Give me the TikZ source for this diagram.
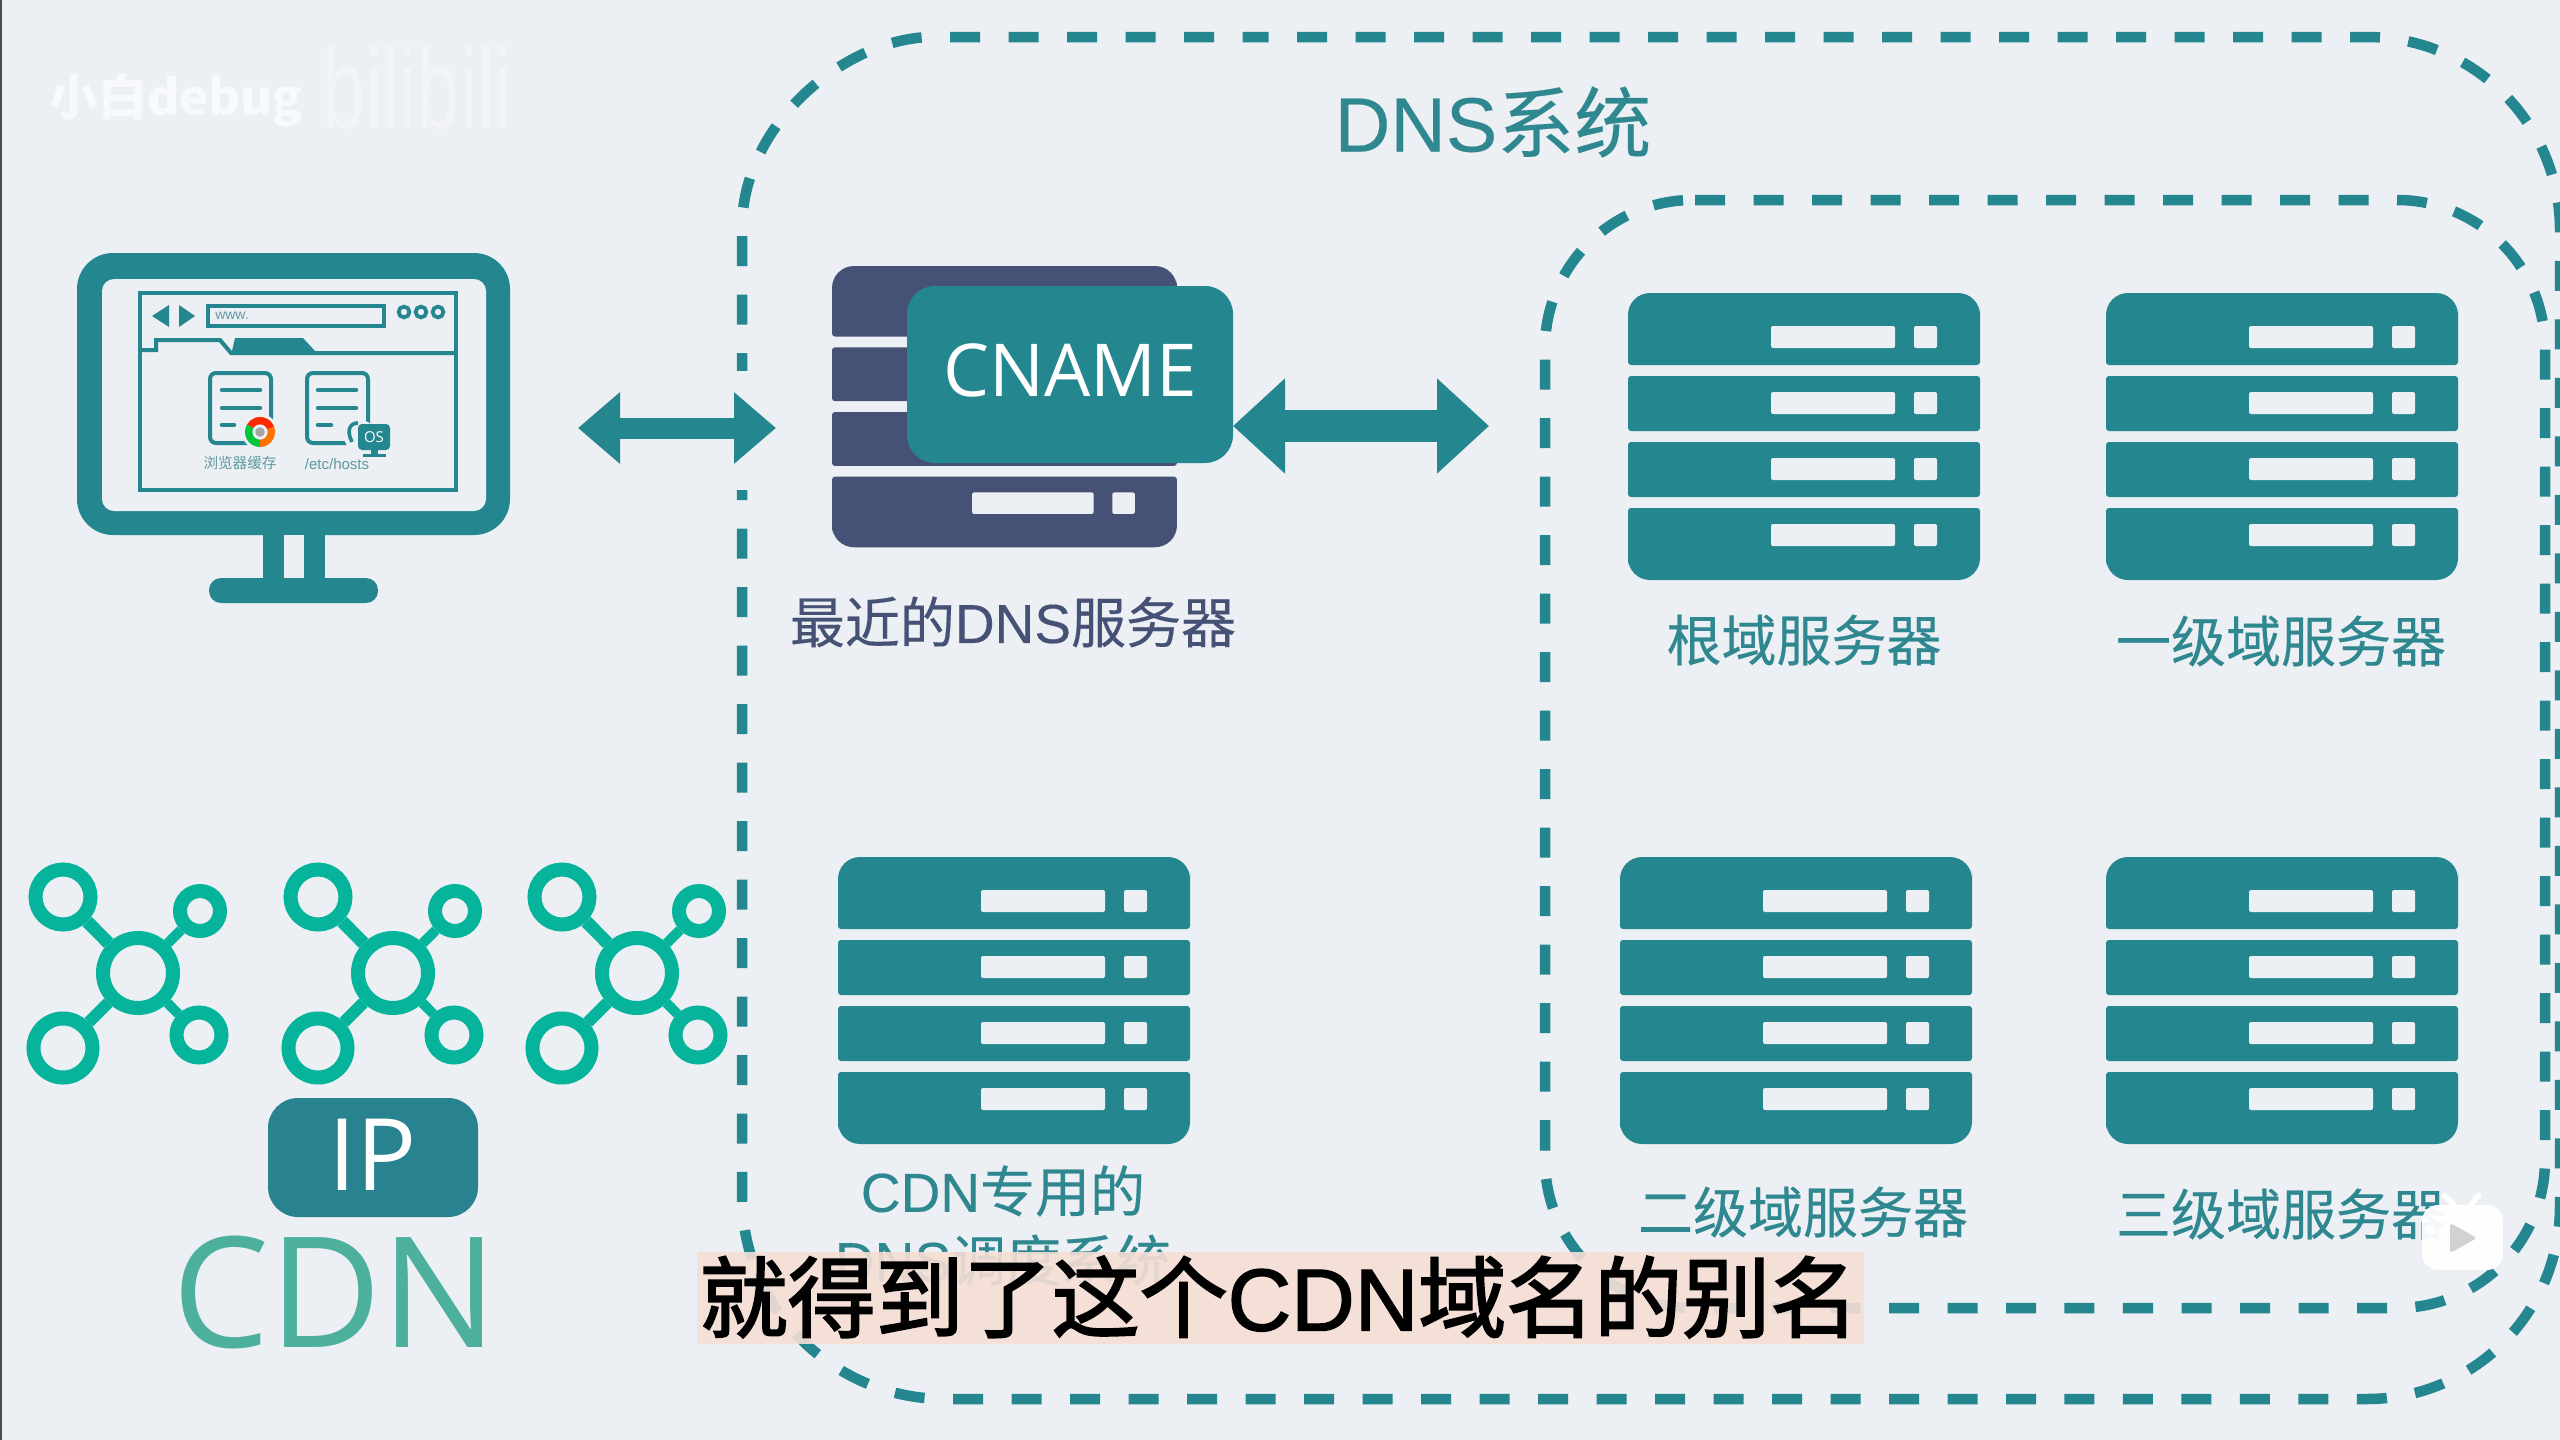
\documentclass[tikz,border=0pt]{standalone}
\usepackage{fontspec}
\setmainfont{Noto Sans CJK SC}
\newfontfamily\opensans{Open Sans}
\newfontfamily\arialish{Liberation Sans}
\newfontfamily\cjkm[FakeBold=0.3]{Noto Sans CJK SC}
\newfontfamily\latm[FakeBold=0.25]{Liberation Sans}
\newfontfamily\cjksub[FakeBold=2.2]{Noto Sans CJK SC}
\newfontfamily\latsub[FakeBold=1.6]{Liberation Sans}
\newcommand{\lm}[1]{{\latm #1}}
\newcommand{\ls}[1]{{\latsub #1}}
\usetikzlibrary{arrows.meta}
\definecolor{bgc}{HTML}{ECEFF3}
\definecolor{teal1}{HTML}{24868F}
\definecolor{navy1}{HTML}{465275}
\definecolor{lab1}{HTML}{2F8790}
\definecolor{ipbox}{HTML}{28828F}
\definecolor{cdng}{HTML}{4CB09C}
\definecolor{netg}{HTML}{06B39B}
\definecolor{subbg}{HTML}{F6DFD6}
\definecolor{small1}{HTML}{5E9AA0}
\tikzset{
  dashline/.style={draw=teal1,line width=5.25pt,line cap=butt,dash pattern=on 15pt off 14.25pt},
  srvlabel/.style={inner sep=0pt,text=lab1,font=\cjkm\fontsize{27.5pt}{30pt}\selectfont},
  ring/.style={circle,draw=netg,line width=7pt,inner sep=0pt},
  netlink/.style={draw=netg,line width=#1},
  fatarrow/.style={draw=teal1,line width=#1},
  winline/.style={draw=teal1,line width=2pt},
  docline/.style={draw=teal1,line width=2.25pt,line cap=round},
}
\newcommand{\serverIcon}[4]{%
\begin{scope}[shift={(#1,#2)},scale=#4]
\fill[#3] (0,36) [rounded corners=11pt] -- (0,0) -- (176,0) -- (352,0) -- (352,36) [rounded corners=1.5pt] -- (352,72) -- (0,72) -- cycle;
\fill[#3,rounded corners=1.5pt] (0,83) rectangle (352,138);
\fill[#3,rounded corners=1.5pt] (0,149) rectangle (352,204);
\fill[#3] (0,250) [rounded corners=1.5pt] -- (0,215) -- (352,215) -- (352,250) [rounded corners=11pt] -- (352,287) -- (0,287) -- cycle;
\foreach \wy in {33,99,165,231}{
  \fill[bgc,rounded corners=1pt] (143,\wy) rectangle (267,\wy+22);
  \fill[bgc,rounded corners=1pt] (286,\wy) rectangle (309,\wy+22);
}
\end{scope}}
\begin{document}
\begin{tikzpicture}[x=0.5pt,y=-0.5pt]
\useasboundingbox (0,0) rectangle (2560,1440);
\clip (0,0) rectangle (2560,1440);
\fill[bgc] (0,0) rectangle (2560,1440);
\fill[black!70] (0,0) rectangle (2,1440);
% watermark
\node[inner sep=0pt,text=white!60!bgc,font=\bfseries\fontsize{24.5pt}{28pt}\selectfont] (wm) at (176,100) {小白debug};
\node[inner sep=0pt,text=white!30!bgc,font=\arialish\fontsize{57pt}{60pt}\selectfont] (wmb) at (417,88) {\scalebox{.68}[1]{bilibili}};
% outer dashed frame
\draw[dashline] (1297,37) -- (2367,37) .. controls (2473.6,37) and (2560,123.4) .. (2560,230) -- (2560,1206) .. controls (2560,1312.6) and (2473.6,1399) .. (2367,1399) -- (2036,1399);
\draw[dashline] (2036,1399) -- (945,1399) .. controls (832.9,1399) and (742,1308.1) .. (742,1196) -- (742,1143.5);
\draw[dashline] (742,1143.5) -- (742,228) .. controls (742,122.5) and (847.5,37) .. (933,37) -- (1268.5,37);
% inner dashed frame
\draw[dashline] (1695,200) -- (2397,200) .. controls (2478.7,200) and (2545,266.3) .. (2545,348) -- (2545,1160) .. controls (2545,1241.7) and (2478.7,1308) .. (2397,1308) -- (2036,1308);
\draw[dashline] (2036,1308) -- (1693,1308) .. controls (1611.3,1308) and (1545,1241.7) .. (1545,1160) -- (1545,1150);
\draw[dashline] (1545,1150) -- (1545,348) .. controls (1545,266.3) and (1611.3,200) .. (1693,200);
\fill[bgc] (733,371) rectangle (751,490);
% title
\node[inner sep=0pt,text=lab1,font=\cjkm\fontsize{38.5pt}{42pt}\selectfont] (title) at (1493,122) {\lm{DNS}系统};
% monitor
\fill[teal1,rounded corners=18pt] (77,253) rectangle (510,535);
\fill[bgc,rounded corners=6pt] (102,279) rectangle (486,511);
\fill[teal1] (263,530) rectangle (325,585);
\fill[bgc] (284,535) rectangle (304,578);
\fill[teal1,rounded corners=6pt] (209,578) rectangle (378,603);
% browser window
\draw[winline] (140,293) rectangle (456,490);
\fill[teal1] (169,305) -- (169,327) -- (152,316) -- cycle;
\fill[teal1] (179,305) -- (179,327) -- (195,316) -- cycle;
\draw[winline] (208,306) rectangle (384,326);
\node[inner sep=0pt,text=small1,font=\arialish\fontsize{7pt}{8pt}\selectfont] (www) at (232,316) {www.};
\foreach \dx in {404,421,438}{\draw[teal1,line width=1.9pt] (\dx,312) circle[radius=2.7pt];}
\draw[winline] (141,350) -- (156,350) -- (156,340) -- (220,340) -- (231,353) -- (455,353);
\fill[teal1] (235,338) -- (303,338) -- (315,351) -- (232,351) -- cycle;
% documents
\draw[winline,rounded corners=3pt] (210,373) rectangle (271,443);
\draw[docline] (222,390) -- (260,390);
\draw[docline] (222,408) -- (260,408);
\draw[docline] (222,425) -- (234,425);
\draw[winline,rounded corners=3pt] (307,373) rectangle (368,443);
\draw[docline] (318,390) -- (356,390);
\draw[docline] (318,408) -- (356,408);
\draw[docline] (318,425) -- (331,425);
% chrome badge
\fill[bgc] (260,432) circle[radius=9pt];
\begin{scope}[shift={(260,432)},x=1pt,y=1pt]
\fill[red!70!orange] (0,0) -- (20:7.5pt) arc[start angle=20,end angle=150,radius=7.5pt] -- cycle;
\fill[green!55!teal] (0,0) -- (150:7.5pt) arc[start angle=150,end angle=270,radius=7.5pt] -- cycle;
\fill[orange!90!red] (0,0) -- (270:7.5pt) arc[start angle=270,end angle=380,radius=7.5pt] -- cycle;
\fill[bgc] (0,0) circle[radius=3.8pt];
\fill[gray!70] (0,0) circle[radius=2.4pt];
\end{scope}
% OS badge
\fill[bgc] (360,436) circle[radius=8pt];
\draw[teal1,line width=1.8pt] (352,442) .. controls (346,430) and (350,423) .. (358,423);
\fill[teal1,rounded corners=2pt] (358,424) rectangle (390,450);
\fill[teal1] (371,450) rectangle (378,455);
\fill[teal1] (363,454) rectangle (386,457);
\node[inner sep=0pt,text=white,font=\opensans\fontsize{7.5pt}{8pt}\selectfont] (oslab) at (374,437) {OS};
\node[inner sep=0pt,text=small1,font=\fontsize{7.3pt}{8pt}\selectfont] (cachelab) at (240,463) {浏览器缓存};
\node[inner sep=0pt,text=small1,font=\arialish\fontsize{7.5pt}{8pt}\selectfont] (hostslab) at (337,464) {/etc/hosts};
% arrow monitor <-> DNS
\coordinate (a1l) at (578,428);
\coordinate (a1r) at (776,428);
\draw[fatarrow=10.5pt,{Triangle[length=21pt,width=34.5pt]}-{Triangle[length=21pt,width=34.5pt]}] (a1l) -- (a1r);
% nearest DNS server
\serverIcon{832}{266}{navy1}{0.98}
\node[inner sep=0pt,text=navy1,font=\cjkm\fontsize{27.5pt}{30pt}\selectfont] (nearlab) at (1013,622) {最近的\lm{DNS}服务器};
% arrow CNAME <-> servers
\coordinate (a2l) at (1233,426);
\coordinate (a2r) at (1489,426);
\draw[fatarrow=16pt,{Triangle[length=26pt,width=46pt]}-{Triangle[length=26pt,width=46pt]}] (a2l) -- (a2r);
\node[fill=teal1,rounded corners=14pt,minimum width=163pt,minimum height=88.5pt,inner sep=0pt,text=white,font=\opensans\fontsize{36.5pt}{38pt}\selectfont] (cname) at (1070,374.5) {\raisebox{4pt}{CNAME}};
% servers
\serverIcon{1628}{293}{teal1}{1}
\serverIcon{2106}{293}{teal1}{1}
\serverIcon{1620}{857}{teal1}{1}
\serverIcon{2106}{857}{teal1}{1}
\serverIcon{838}{857}{teal1}{1}
\node[srvlabel] (l1) at (1804,640) {根域服务器};
\node[srvlabel] (l2) at (2281,641) {一级域服务器};
\node[srvlabel] (l3) at (1803,1212) {二级域服务器};
\node[srvlabel] (l4) at (2281,1214) {三级域服务器};
\node[srvlabel] (l5) at (1003,1191) {\lm{CDN}专用的};
\node[srvlabel] (l6) at (1003,1260) {\lm{DNS}调度系统};
% CDN network icons
\foreach \n/\cx in {a/0,b/255,c/499}{
\begin{scope}[shift={(\cx,0)}]
\node[ring,minimum size=35pt] (\n c) at (138,973) {};
\node[ring,minimum size=27.5pt] (\n tl) at (63,897) {};
\node[ring,minimum size=20pt] (\n tr) at (200,911) {};
\node[ring,minimum size=29.5pt] (\n bl) at (63,1048) {};
\node[ring,minimum size=22.5pt] (\n br) at (199,1035) {};
\draw[netlink=6.5pt] (\n c) -- (\n tl);
\draw[netlink=5pt] (\n c) -- (\n tr);
\draw[netlink=6pt] (\n c) -- (\n bl);
\draw[netlink=5pt] (\n c) -- (\n br);
\end{scope}}
% IP and CDN
\node[fill=ipbox,rounded corners=15pt,minimum width=105pt,minimum height=59.5pt,inner sep=0pt,text=white,font=\opensans\fontsize{50pt}{52pt}\selectfont] (ip) at (373,1157.5) {\raisebox{3pt}{IP}};
\node[inner sep=0pt,text=cdng,font=\opensans\fontsize{77pt}{80pt}\selectfont] (cdn) at (335,1292) {CDN};
% subtitle
\fill[subbg,opacity=.9] (697,1252) rectangle (1864,1344);
\node[inner sep=0pt,text=black,font=\cjksub\fontsize{44pt}{46pt}\selectfont] (sub) at (1279,1297) {就得到了这个\ls{CDN}域名的别名};
% player badge
\fill[white,opacity=.95,rounded corners=8pt] (2422,1205) rectangle (2503,1270);
\draw[white,line width=2.5pt,line cap=round] (2444,1195) -- (2456,1207);
\draw[white,line width=2.5pt,line cap=round] (2479,1195) -- (2469,1207);
\fill[gray!35,rounded corners=1.5pt] (2450,1223) -- (2450,1253) -- (2477,1238) -- cycle;
\end{tikzpicture}
\end{document}
